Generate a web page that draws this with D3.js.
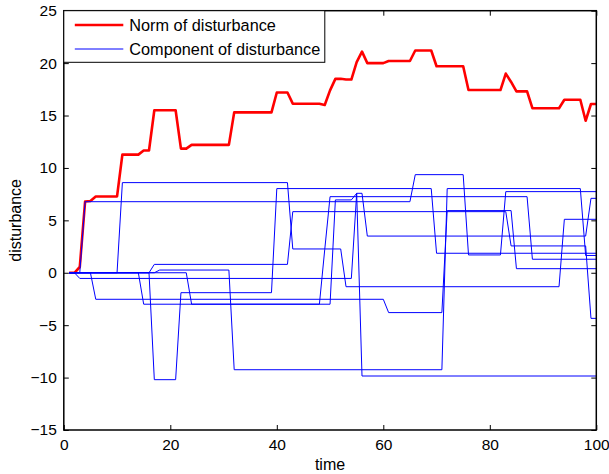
<!DOCTYPE html>
<html>
<head>
<meta charset="utf-8">
<script src="https://cdn.jsdelivr.net/npm/d3@7"></script>
<style>
  body { margin: 0; background: #fff; }
  svg text { font-family: "Liberation Sans", Arial, sans-serif; }
</style>
</head>
<body>
<div id="chart"></div>
<script>
// breakpoints [time, value]
var normSeries = [[1,0],[2,0],[3,0.55],[4,6.8],[5,6.85],[6,7.28],[10,7.28],[11,11.27],[14,11.27],[15,11.66],[16,11.66],
  [17,15.5],[21,15.5],[22,11.84],[23,11.84],[24,12.2],[31,12.2],[32,15.3],[39,15.3],[40,17.2],[42,17.2],[43,16.13],
  [48,16.13],[49,16.0],[50,17.4],[51,18.5],[52,18.5],[53,18.43],[54,18.43],[55,20.1],[56,21.1],[57,20.0],[60,20.0],
  [61,20.2],[65,20.2],[66,21.2],[69,21.2],[70,19.7],[75,19.7],[76,17.43],[82,17.43],[83,19.0],[84,18.2],[85,17.3],
  [87,17.3],[88,15.7],[93,15.7],[94,16.5],[97,16.5],[98,14.5],[99,16.1],[100,16.1]];

var comp1 = [[1,0],[10,0],[11,8.6],[42,8.6],[43,2.27],[52,2.27],[53,-1.33],[93,-1.33],[94,5.1],[100,5.1]];
var comp2 = [[1,0],[3,0],[4,6.78],[65,6.78],[66,9.36],[75,9.36],[76,1.7],[82,1.7],[83,7.74],[100,7.74]];
var comp3 = [[1,0],[2,0],[3,-0.54],[54,-0.54],[55,7.58],[56,7.58],[57,3.5],[98,3.5],[99,7.1],[100,7.1]];
var comp4 = [[1,0],[5,0],[6,-2.53],[60,-2.53],[61,-3.8],[71,-3.8],[72,5.93],[84,5.93],[85,0.39],[100,0.39]];
var comp5 = [[1,0],[14,0],[15,-3.0],[48,-3.0],[49,2.2],[50,7.26],[87,7.26],[88,1.29],[100,1.29]];
var comp6 = [[1,0],[16,0],[17,-10.2],[21,-10.2],[22,-1.9],[39,-1.9],[40,8.03],[69,8.03],[70,1.86],[100,1.86]];
var comp7 = [[1,0],[16,0],[17,0.8],[42,0.8],[43,5.83],[83,5.83],[84,2.56],[98,2.56],[99,-4.35],[100,-4.35]];
var comp8 = [[1,0],[17,0],[18,0.26],[31,0.26],[32,-9.25],[71,-9.25],[72,8.03],[97,8.03],[98,1.65],[100,1.65]];
var comp9 = [[1,0],[23,0],[24,-3.0],[50,-3.0],[51,6.95],[54,6.95],[55,7.58],[56,-9.85],[100,-9.85]];
var components = [comp1, comp2, comp3, comp4, comp5, comp6, comp7, comp8, comp9];

var xTicks = [0, 20, 40, 60, 80, 100];
var yTicks = [-15, -10, -5, 0, 5, 10, 15, 20, 25];
var legendLabels = ["Norm of disturbance", "Component of disturbance"];

var margin = { top: 10.7, right: 12.7, bottom: 44, left: 63.8 };
var width = 609 - margin.left - margin.right,
    height = 474 - margin.top - margin.bottom;

var svg = d3.select("#chart").append("svg")
  .attr("width", 609)
  .attr("height", 474)
  .append("g")
  .attr("transform", "translate(" + margin.left + "," + margin.top + ")");

var x = d3.scaleLinear().domain([0, 100]).range([0, width]);
var y = d3.scaleLinear().domain([-15, 25]).range([height, 0]);

var line = d3.line()
  .x(d => x(d[0]))
  .y(d => y(d[1]));

// norm first, components drawn on top
svg.append("path")
  .attr("d", line(normSeries))
  .attr("fill", "none")
  .attr("stroke", "#ff0000")
  .attr("stroke-width", 2.6)
  .attr("stroke-linejoin", "round");

svg.selectAll(".comp")
  .data(components)
  .enter().append("path")
  .attr("class", "comp")
  .attr("d", d => line(d))
  .attr("fill", "none")
  .attr("stroke", "#0000ff")
  .attr("stroke-width", 1);

// axes, ticks pointing inward on all four sides
function styleAxis(g) {
  g.select(".domain").remove();
  g.selectAll("line").attr("stroke", "#000").attr("stroke-width", 1);
  g.selectAll("text").attr("fill", "#000").style("font-size", "15.5px");
}

svg.append("g")
  .attr("transform", "translate(0," + height + ")")
  .call(d3.axisBottom(x).tickValues(xTicks).tickSizeInner(-5).tickSizeOuter(0).tickPadding(9))
  .call(styleAxis);

svg.append("g")
  .call(d3.axisTop(x).tickValues(xTicks).tickSizeInner(-5).tickSizeOuter(0).tickFormat(""))
  .call(styleAxis);

svg.append("g")
  .call(d3.axisLeft(y).tickValues(yTicks).tickSizeInner(-5).tickSizeOuter(0).tickPadding(7))
  .call(styleAxis);

svg.append("g")
  .attr("transform", "translate(" + width + ",0)")
  .call(d3.axisRight(y).tickValues(yTicks).tickSizeInner(-5).tickSizeOuter(0).tickFormat(""))
  .call(styleAxis);

// box
svg.append("rect")
  .attr("width", width)
  .attr("height", height)
  .attr("fill", "none")
  .attr("stroke", "#000")
  .attr("stroke-width", 1.5);

// axis titles
svg.append("text")
  .attr("x", width / 2)
  .attr("y", height + 40)
  .attr("text-anchor", "middle")
  .style("font-size", "16px")
  .text("time");

svg.append("text")
  .attr("transform", "translate(-43," + (height / 2) + ") rotate(-90)")
  .attr("text-anchor", "middle")
  .style("font-size", "16px")
  .text("disturbance");

// legend
var legend = svg.append("g");
legend.append("rect")
  .attr("x", 0)
  .attr("y", 0)
  .attr("width", 261)
  .attr("height", 51.6)
  .attr("fill", "#fff")
  .attr("stroke", "#000")
  .attr("stroke-width", 1);

var legendColors = ["#ff0000", "#0000ff"];
var legendWidths = [2.6, 1];
legendLabels.forEach(function (label, i) {
  var ly = 14.3 + i * 24;
  legend.append("line")
    .attr("x1", 11).attr("x2", 59.5)
    .attr("y1", ly).attr("y2", ly)
    .attr("stroke", legendColors[i])
    .attr("stroke-width", legendWidths[i]);
  legend.append("text")
    .attr("x", 65.5)
    .attr("y", ly + 5.8)
    .style("font-size", "16.3px")
    .text(label);
});
</script>
</body>
</html>
